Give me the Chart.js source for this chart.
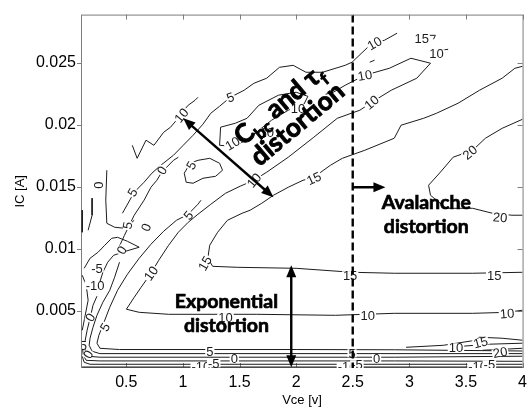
<!DOCTYPE html>
<html>
<head>
<meta charset="utf-8">
<script src="https://cdn.jsdelivr.net/npm/chart.js@4.4.1/dist/chart.umd.min.js"></script>
<style>
  html, body { margin: 0; padding: 0; background: #fff; overflow: hidden; }
  #wrap { position: relative; width: 532px; height: 408px; }
</style>
</head>
<body>
<div id="wrap"><canvas id="myChart"></canvas></div>
<script>
const xTicks = [0.5, 1, 1.5, 2, 2.5, 3, 3.5, 4];
const yTicks = [0.005, 0.01, 0.015, 0.02, 0.025];

// contour lines as [Vce, IC] pairs
const iso20 = [[4.0,0.02046],[3.820,0.01973],[3.672,0.01893],[3.560,0.01796],[3.387,0.01740],[3.274,0.01619],[3.170,0.01514],[3.187,0.01433],[3.326,0.01328],[3.560,0.01328],[3.733,0.01288],[3.906,0.01272],[4.0,0.01272]];
const iso15 = [[4.0,0.00812],[3.560,0.00804],[2.867,0.00804],[2.494,0.00812],[2.000,0.00844],[1.480,0.00852],[1.263,0.00860],[1.220,0.00925],[1.237,0.01030],[1.307,0.01135],[1.393,0.01231],[1.523,0.01288],[1.593,0.01312],[1.697,0.01369],[1.800,0.01433],[1.931,0.01498],[2.061,0.01554],[2.156,0.01578],[2.303,0.01675],[2.408,0.01731],[2.607,0.01796],[2.867,0.01893],[2.927,0.01998],[3.127,0.02054],[3.239,0.02094],[3.430,0.02175],[3.620,0.02280],[3.820,0.02377],[3.932,0.02457],[4.0,0.02473]];
const iso10 = [[4.0,0.00506],[3.863,0.00489],[3.560,0.00481],[2.867,0.00481],[2.347,0.00465],[1.653,0.00473],[0.874,0.00473],[0.614,0.00489],[0.501,0.00514],[0.570,0.00610],[0.631,0.00691],[0.718,0.00804],[0.787,0.00909],[0.874,0.01030],[0.960,0.01135],[1.047,0.01215],[1.133,0.01280],[1.246,0.01360],[1.376,0.01449],[1.506,0.01506],[1.627,0.01554],[1.740,0.01619],[1.931,0.01740],[2.156,0.01901],[2.364,0.02054],[2.563,0.02119],[2.667,0.02183],[2.840,0.02280],[3.066,0.02377],[3.187,0.02498],[3.014,0.02538],[2.823,0.02457],[2.607,0.02401],[2.433,0.02320],[2.329,0.02264],[2.260,0.02248]];
const iso10Loop = [[1.324,0.01836],[1.333,0.01982],[1.463,0.02014],[1.567,0.02054],[1.671,0.02159],[1.844,0.02240],[2.000,0.02264],[2.104,0.02231],[2.069,0.02167],[1.931,0.02119],[1.783,0.02038],[1.671,0.01957],[1.567,0.01877],[1.437,0.01828],[1.324,0.01836]];
const iso10Edge = [[0.553,0.01836],[0.596,0.01731],[0.674,0.01877],[0.744,0.01836],[0.830,0.01941],[0.891,0.01982],[0.943,0.02038],[0.986,0.02094],[1.047,0.02159],[1.107,0.02199],[1.133,0.02223]];
const iso5Low = [[4.0,0.00177],[2.867,0.00187],[2.000,0.00189],[0.440,0.00189],[0.267,0.00199],[0.241,0.00240],[0.258,0.00304],[0.293,0.00385],[0.354,0.00530],[0.423,0.00667],[0.510,0.00796],[0.614,0.00925],[0.718,0.01038],[0.830,0.01143],[0.943,0.01231],[1.047,0.01280],[1.133,0.01361],[1.160,0.01393]];
const iso5High = [[0.466,0.01288],[0.570,0.01457],[0.657,0.01538],[0.726,0.01611],[0.805,0.01675],[0.917,0.01756],[1.003,0.01836],[1.090,0.01917],[1.177,0.02006],[1.246,0.02094],[1.324,0.02151],[1.419,0.02223],[1.541,0.02280],[1.627,0.02336],[1.740,0.02377],[1.853,0.02465],[1.974,0.02481],[2.087,0.02425],[2.234,0.02425],[2.433,0.02481],[2.494,0.02506],[2.633,0.02627],[2.693,0.02659],[2.780,0.02683],[2.892,0.02740]];
const iso5Loop = [[1.029,0.01538],[1.012,0.01611],[1.064,0.01691],[1.133,0.01715],[1.237,0.01731],[1.324,0.01691],[1.350,0.01635],[1.289,0.01586],[1.177,0.01570],[1.090,0.01530],[1.029,0.01538]];
const iso0Left = [[0.423,0.00990],[0.484,0.01110],[0.570,0.01272],[0.657,0.01393],[0.718,0.01498],[0.770,0.01554],[0.813,0.01619],[0.917,0.01715],[0.960,0.01740]];
const isoNearA = [[0.328,0.01635],[0.319,0.01394],[0.328,0.01207],[0.397,0.01175],[0.484,0.01167],[0.570,0.01231]];
const isoNearB = [[0.198,0.01409],[0.198,0.01272],[0.163,0.01151]];
const isoNearC = [[0.111,0.01312],[0.111,0.01135]];
const isoNearD = [[0.128,0.00844],[0.180,0.00925],[0.250,0.00973],[0.310,0.01030],[0.371,0.01086],[0.423,0.01094],[0.510,0.01062],[0.614,0.01014],[0.492,0.00981],[0.388,0.00949],[0.336,0.00893],[0.293,0.00812],[0.258,0.00707]];
const isoNearE = [[0.111,0.00788],[0.146,0.00707],[0.163,0.00586],[0.137,0.00465],[0.111,0.00344]];
const isoFloor5 = [[4.0,0.00156],[2.0,0.00156],[0.267,0.00156],[0.198,0.00175],[0.172,0.00223],[0.180,0.00280],[0.206,0.00369],[0.241,0.00465],[0.293,0.00570],[0.354,0.00667],[0.397,0.00772],[0.440,0.00893]];
const isoFloor0 = [[4.0,0.00135],[2.867,0.00127],[1.480,0.00127],[0.267,0.00127],[0.163,0.00135],[0.137,0.00183],[0.137,0.00264],[0.154,0.00344],[0.180,0.00441],[0.206,0.00546],[0.241,0.00619]];
const isoFloorM5 = [[4.0,0.00094],[2.867,0.00097],[0.267,0.00097],[0.146,0.00102],[0.120,0.00143],[0.111,0.00223]];
const isoFloorM10 = [[4.0,0.00070],[0.180,0.00070],[0.128,0.00086],[0.111,0.00135]];
const isoFloorM15 = [[4.0,0.00048],[0.111,0.00048]];
const isoRight10 = [[2.971,0.00207],[3.300,0.00223],[3.588,0.00264],[3.620,0.00288],[3.820,0.00280],[4.0,0.00264]];
const isoRight15 = [[3.473,0.00216],[3.707,0.00232],[4.0,0.00240]];
const isoRight20 = [[3.647,0.00183],[4.0,0.00199]];
const isoTop15 = [[3.153,0.02723],[3.230,0.02723],[3.213,0.02691]];
const isoTop10 = [[3.274,0.02602],[3.343,0.02610]];
const isoTopDot = [[2.650,0.02506],[2.693,0.02522]];

// contour labels: text, Vce, IC, rotation (deg)
const isoLabels = [
  ['5',1.238,0.00175,0], ['0',1.454,0.00119,0], ['-10',1.159,0.00054,0], ['-5',1.272,0.00078,0],
  ['5',2.494,0.00159,0], ['0',2.711,0.00119,0], ['-10',2.450,0.00054,0], ['-5',2.537,0.00070,0],
  ['-10',3.603,0.00054,0], ['-5',3.707,0.00070,0],
  ['10',3.412,0.00207,0], ['15',3.629,0.00248,-15], ['20',3.802,0.00167,-10],
  ['10',1.376,0.00449,0], ['10',2.633,0.00465,0], ['10',3.863,0.00481,-5],
  ['15',2.477,0.00788,0], ['15',3.750,0.00788,0], ['15',1.194,0.00885,-60], ['15',2.156,0.01570,-25],
  ['20',3.534,0.01780,-40], ['20',3.802,0.01256,5],
  ['10',1.627,0.01554,-50], ['10',0.718,0.00804,-55], ['10',2.667,0.02183,-40], ['10',2.607,0.02401,-10],
  ['10',2.693,0.02659,-30], ['15',3.109,0.02699,0], ['10',3.239,0.02578,0],
  ['5',1.419,0.02223,-20], ['10',0.986,0.02078,-50], ['10',2.017,0.02135,0], ['10',1.740,0.01941,0],
  ['10',1.437,0.01852,-30], ['5',1.073,0.01675,-60], ['5',1.047,0.01272,-50],
  ['5',0.553,0.01457,-60], ['0',0.813,0.01635,-60], ['0',0.250,0.01514,-90], ['0',0.674,0.01175,-70],
  ['5',0.510,0.01191,-80], ['0',0.458,0.00990,-60], ['-5',0.241,0.00844,0], ['-10',0.224,0.00707,0],
  ['0',0.180,0.00449,-60], ['5',0.310,0.00369,-60], ['5',0.120,0.00223,0], ['0',0.163,0.00151,-60]
];

const isoLines = [iso20, iso15, iso10, iso10Loop, iso10Edge, iso5Low, iso5High, iso5Loop, iso0Left,
  isoNearA, isoNearB, isoNearC, isoNearD, isoNearE, isoFloor5, isoFloor0, isoFloorM5, isoFloorM10,
  isoFloorM15, isoRight10, isoRight15, isoRight20, isoTop15, isoTop10, isoTopDot];

const ink = '#1c1c1c';
const sans = '"Liberation Sans", Arial, sans-serif';
const bold = 'Lato, "Open Sans", sans-serif';

function arrow(ctx, x1, y1, x2, y2, both) {
  const a = Math.atan2(y2 - y1, x2 - x1);
  const len = 12, half = 5;
  const head = (hx, hy, ang) => {
    ctx.beginPath();
    ctx.moveTo(hx, hy);
    ctx.lineTo(hx - len * Math.cos(ang) + half * Math.sin(ang), hy - len * Math.sin(ang) - half * Math.cos(ang));
    ctx.lineTo(hx - len * Math.cos(ang) - half * Math.sin(ang), hy - len * Math.sin(ang) + half * Math.cos(ang));
    ctx.closePath();
    ctx.fill();
  };
  const sx = both ? x1 + 8 * Math.cos(a) : x1, sy = both ? y1 + 8 * Math.sin(a) : y1;
  ctx.beginPath();
  ctx.moveTo(sx, sy);
  ctx.lineTo(x2 - 8 * Math.cos(a), y2 - 8 * Math.sin(a));
  ctx.stroke();
  head(x2, y2, a);
  if (both) head(x1, y1, a + Math.PI);
}

// filled and lightly stroked so the bold face reads heavier
function heavyText(ctx, t, x, y) {
  ctx.fillText(t, x, y);
  ctx.strokeText(t, x, y);
}

function richText(ctx, parts, cx, cy, deg, size) {
  ctx.save();
  ctx.translate(cx, cy);
  ctx.rotate(deg * Math.PI / 180);
  ctx.textAlign = 'left';
  ctx.textBaseline = 'alphabetic';
  let total = 0;
  parts.forEach(p => {
    ctx.font = 'bold ' + (p.sub ? size * 0.65 : size) + 'px ' + bold;
    p.w = ctx.measureText(p.t).width;
    total += p.w;
  });
  let px = -total / 2;
  parts.forEach(p => {
    ctx.font = 'bold ' + (p.sub ? size * 0.65 : size) + 'px ' + bold;
    heavyText(ctx, p.t, px, p.sub ? size * 0.25 : 0);
    px += p.w;
  });
  ctx.restore();
}

const frame = {
  id: 'frame',
  beforeDatasetsDraw(chart) {
    const { ctx, chartArea: a, scales: { x, y } } = chart;
    ctx.save();
    ctx.strokeStyle = '#7d7d7d';
    ctx.lineWidth = 1;
    ctx.strokeRect(a.left + 0.5, a.top + 0.5, a.right - a.left, a.bottom - a.top - 1);
    ctx.beginPath();
    xTicks.forEach(v => {
      const px = Math.round(x.getPixelForValue(v)) + 0.5;
      ctx.moveTo(px, a.bottom); ctx.lineTo(px, a.bottom - 5);
      ctx.moveTo(px, a.top); ctx.lineTo(px, a.top + 5);
    });
    yTicks.forEach(v => {
      const py = Math.round(y.getPixelForValue(v)) + 0.5;
      ctx.moveTo(a.left - 4, py); ctx.lineTo(a.left, py);
      ctx.moveTo(a.right, py); ctx.lineTo(a.right - 5, py);
    });
    ctx.stroke();
    ctx.restore();
  },
  afterDatasetsDraw(chart) {
    const { ctx, chartArea: a, scales: { x, y } } = chart;
    const X = v => x.getPixelForValue(v), Y = v => y.getPixelForValue(v);
    ctx.save();
    ctx.beginPath();
    ctx.rect(a.left + 1, a.top + 1, a.right - a.left - 1, a.bottom - a.top - 1);
    ctx.clip();

    // contour level labels
    ctx.font = '13px ' + sans;
    ctx.textAlign = 'center';
    ctx.textBaseline = 'middle';
    isoLabels.forEach(([t, vx, vy, deg]) => {
      ctx.save();
      ctx.translate(X(vx), Y(vy));
      ctx.rotate(deg * Math.PI / 180);
      const w = ctx.measureText(t).width;
      ctx.fillStyle = '#fff';
      ctx.fillRect(-w / 2 - 1, -4, w + 2, 8);
      ctx.fillStyle = ink;
      ctx.fillText(t, 0, 1);
      ctx.restore();
    });

    // avalanche boundary
    ctx.strokeStyle = '#000';
    ctx.fillStyle = '#000';
    ctx.lineWidth = 2.4;
    ctx.setLineDash([8, 4]);
    ctx.beginPath();
    ctx.moveTo(X(2.5), a.top);
    ctx.lineTo(X(2.5), a.bottom);
    ctx.stroke();
    ctx.setLineDash([]);

    arrow(ctx, X(1.003), Y(0.02054), X(1.800), Y(0.01417), true);
    arrow(ctx, X(1.957), Y(0.00869), X(1.957), Y(0.00046), true);
    arrow(ctx, X(2.5), Y(0.01498), X(2.789), Y(0.01498), false);

    ctx.lineWidth = 0.7;
    ctx.textAlign = 'center';
    ctx.textBaseline = 'alphabetic';
    ctx.font = 'bold 19.5px ' + bold;
    heavyText(ctx, 'Exponential', X(1.385), Y(0.00522));
    heavyText(ctx, 'distortion', X(1.385), Y(0.00332));
    heavyText(ctx, 'Avalanche', X(3.150), Y(0.01320));
    heavyText(ctx, 'distortion', X(3.150), Y(0.01127));

    ctx.lineWidth = 0.9;
    richText(ctx, [{ t: 'C' }, { t: 'bc', sub: true }, { t: ' and \u03c4' }, { t: 'f', sub: true }],
      X(1.900), Y(0.02110), -40, 26);
    richText(ctx, [{ t: 'distortion' }], X(2.060), Y(0.01955), -40, 26);
    ctx.restore();
  },
  afterDraw(chart) {
    const { ctx, chartArea: a } = chart;
    ctx.save();
    ctx.fillStyle = '#000';
    ctx.font = '13px ' + sans;
    ctx.textAlign = 'center';
    ctx.textBaseline = 'middle';
    ctx.fillText('Vce [v]', 302, 400);
    ctx.translate(20, (a.top + a.bottom) / 2);
    ctx.rotate(-Math.PI / 2);
    ctx.fillText('IC [A]', 0, 0);
    ctx.restore();
  }
};

const config = {
  type: 'line',
  data: {
    datasets: isoLines.map(pts => ({
      data: pts,
      borderColor: ink,
      borderWidth: 1,
      pointRadius: 0,
      tension: 0,
      fill: false
    }))
  },
  options: {
    responsive: true,
    maintainAspectRatio: false,
    animation: false,
    layout: { padding: { top: 14, right: 1, bottom: 0, left: 0 }, autoPadding: false },
    plugins: { legend: { display: false }, tooltip: { enabled: false } },
    scales: {
      x: {
        type: 'linear', min: 0.1, max: 4.0,
        grid: { display: false, drawTicks: false },
        border: { display: false },
        ticks: { color: '#000', font: { family: sans, size: 16 }, padding: 5, maxRotation: 0, autoSkip: false, callback: v => String(v) },
        afterBuildTicks: s => { s.ticks = xTicks.map(v => ({ value: v })); },
        afterFit: s => { s.height = 40; }
      },
      y: {
        type: 'linear', min: 0.0004, max: 0.0289,
        grid: { display: false, drawTicks: false },
        border: { display: false },
        ticks: { color: '#000', font: { family: sans, size: 16 }, padding: 5, autoSkip: false, callback: v => String(v) },
        afterBuildTicks: s => { s.ticks = yTicks.map(v => ({ value: v })); },
        afterFit: s => { s.width = 81; }
      }
    }
  },
  plugins: [frame]
};

const myChart = new Chart(document.getElementById('myChart'), config);
</script>
</body>
</html>
